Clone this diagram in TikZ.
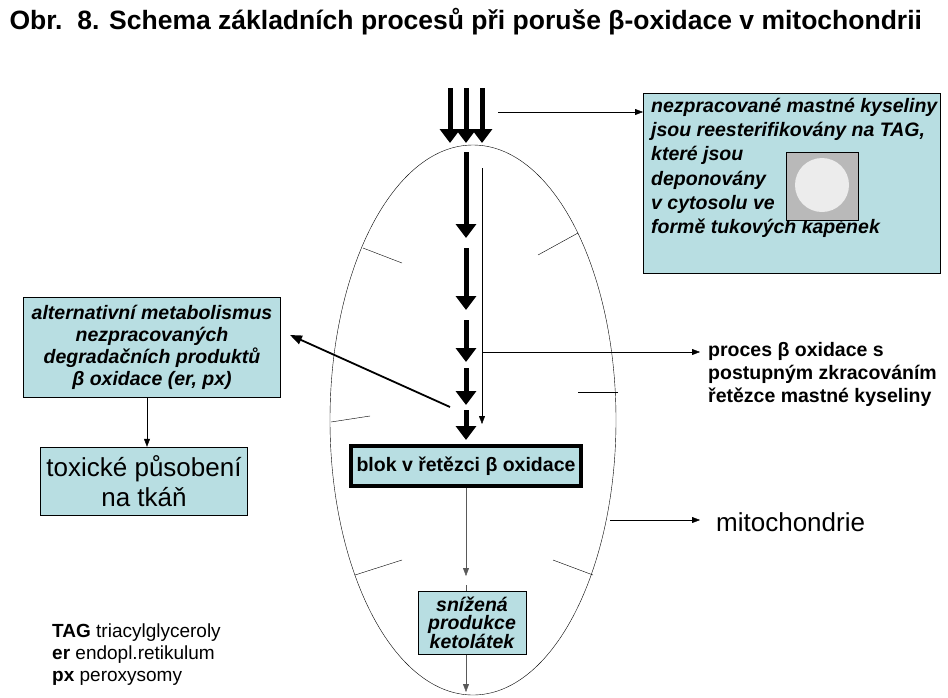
\documentclass[tikz,border=0pt]{standalone}
\usepackage{fontspec}
\setmainfont{Liberation Sans}
\usetikzlibrary{arrows.meta}
\definecolor{boxblue}{RGB}{184,222,226}
\begin{document}
\begin{tikzpicture}[x=1pt,y=-1pt]
        \tikzstyle{infobox}=[draw, fill=boxblue, align=center, font=\bfseries\itshape\fontsize{19.5}{21}\selectfont]
        \tikzstyle{flow} = [line width=5pt, -{Triangle[length=14pt,width=20pt]}];
        \tikzstyle{thin-flow} = [-{Triangle[length=8pt,width=6pt]}];
        \tikzstyle{tick} = [thin];

        \useasboundingbox (0,0) rectangle (948,697);
        \node[anchor=west, font=\bfseries\fontsize{26.5}{30}\selectfont] (title) at (6,22) {Obr.\ \ 8. Schema základních procesů při poruše β-oxidace v mitochondrii};

        % mitochondrie
        \draw (473,420) ellipse [x radius=143, y radius=275];
        \draw[tick] (363,248) -- (402,263);
        \draw[tick] (578,233) -- (538,255);
        \draw[tick] (618,392) -- (578,392);
        \draw[tick] (331,422) -- (370,416);
        \draw[tick] (355,575) -- (402,560);
        \draw[tick] (593,575) -- (553,560);

        % vstup
        \foreach \x/\n in {450/a,466/b,482/c}
          {\coordinate (in-\n) at (\x,88); \coordinate (top-\n) at (\x,143);
           \draw[flow] (in-\n) -- (top-\n);}
        \foreach \y/\z in {152/238,248/310,320/362,368/405,410/440}
          \draw[flow] (466,\y) -- (466,\z);
        \coordinate (thin-top) at (482,168);
        \coordinate (thin-end) at (482,424);
        \draw[thin-flow] (thin-top) -- (thin-end);

        \node[infobox, minimum width=230pt, minimum height=40pt, line width=4pt,
              font=\bfseries\fontsize{19.5}{21}\selectfont] (block) at (466,466) {blok v řetězci β oxidace};

        \node[infobox, anchor=north west, minimum width=297pt, minimum height=180pt] (tag) at (643,93) {};
        \node[anchor=north west, align=left, inner sep=0pt, font=\bfseries\itshape\fontsize{19.5}{24.2}\selectfont] (tag-text) at (651,98)
          {nezpracované mastné kyseliny\\jsou reesterifikovány na TAG,\\které jsou\\deponovány\\v cytosolu ve\\formě tukových kapének};
        \node[draw, fill=gray!55, minimum width=72pt, minimum height=68pt, inner sep=0pt] (photo) at (822,186) {};
        \fill[gray!15] (822,185) circle [radius=27];
        \draw[thin-flow] (498,112) -- (tag.west |- 0,112);

        \node[infobox, minimum width=257pt, minimum height=100pt, font=\bfseries\itshape\fontsize{19.5}{22}\selectfont] (alt) at (152,347)
          {alternativní metabolismus\\nezpracovaných\\degradačních produktů\\β oxidace (er, px)};
        \coordinate (alt-from) at (450,407);
        \draw[line width=1.8pt, -{Triangle[length=12pt,width=9pt]}] (alt-from) -- (290,335);

        \node[infobox, minimum width=207pt, minimum height=68pt, font=\fontsize{26}{30}\selectfont] (toxic) at (144,481)
          {toxické působení\\na tkáň};
        \draw[thin-flow] (alt.south -| 147,0) -- (toxic.north -| 147,0);

        \coordinate (proc-from) at (482,352);
        \node[anchor=west, align=left, inner sep=0pt, font=\bfseries\fontsize{19.5}{23}\selectfont] (proc) at (708,374)
          {proces β oxidace s\\postupným zkracováním\\řetězce mastné kyseliny};
        \draw[thin-flow] (proc-from) -- (700,352);

        \coordinate (mito-from) at (610,520);
        \node[anchor=west, inner sep=0pt, font=\fontsize{26}{30}\selectfont] (mito) at (716,522) {mitochondrie};
        \draw[thin-flow] (mito-from) -- (700,520);

        \node[infobox, minimum width=108pt, minimum height=63pt, inner sep=1pt, font=\bfseries\itshape\fontsize{19.5}{18}\selectfont] (keto) at (472,623)
          {snížená\\produkce\\ketolátek};
        \coordinate (keto-gap) at (466,585);
        \coordinate (bottom) at (466,692);
        \draw[thin-flow, gray!70!black] (block.south -| 466,0) -- (466,576);
        \draw[gray!70!black] (keto-gap) -- (keto.north -| 466,0);
        \draw[thin-flow, gray!70!black] (keto.south -| 466,0) -- (bottom);

        \node[anchor=north west, align=left, inner sep=0pt, font=\fontsize{19}{22}\selectfont] (legend) at (52,624)
          {\textbf{TAG} triacylglyceroly\\\textbf{er} endopl.retikulum\\\textbf{px} peroxysomy};
\end{tikzpicture}
\end{document}
